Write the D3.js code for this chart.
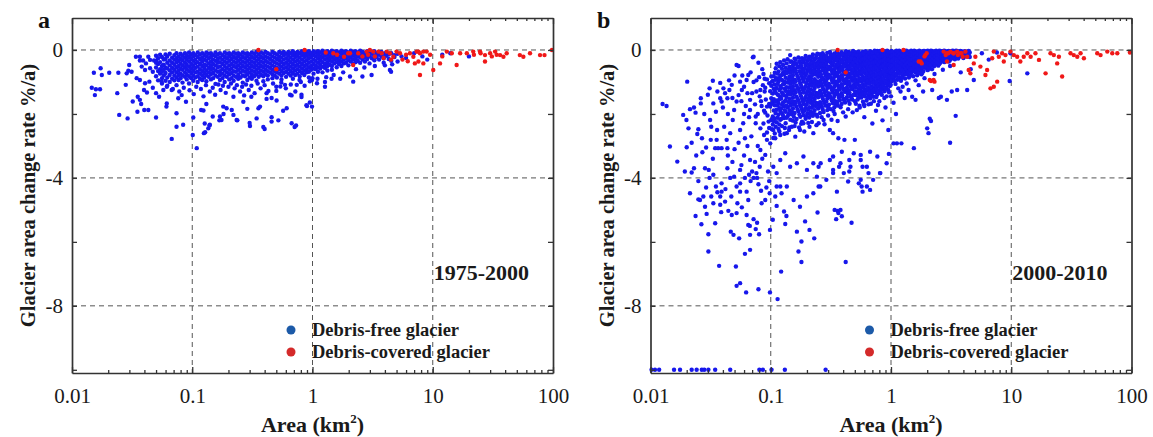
<!DOCTYPE html>
<html>
<head>
<meta charset="utf-8">
<script src="https://cdn.jsdelivr.net/npm/d3@7"></script>
<style>
body { margin: 0; background: #fff; }
svg { display: block; font-family: "Liberation Serif", "Times New Roman", serif; }
</style>
</head>
<body>
<script>
// axis values
const xMajor = [0.01, 0.1, 1, 10, 100];
const xLabels = ["0.01", "0.1", "1", "10", "100"];
const xGrid = [0.1, 1, 10];
const yTicks = [0, -2, -4, -6, -8, -10];
const yLabelled = [0, -4, -8];
const yGrid = [0, -4, -8];
const legendNames = ["Debris-free glacier", "Debris-covered glacier"];

// ---- panel a (1975-2000) ----
// dense band: [area, rate, rate, ...]
const denseFreeA = [
  [0.050,-0.18,-0.34,-0.55,-0.82],[0.052,-0.26,-0.44,-0.66,-0.95],[0.054,-0.15,-0.38,-0.6,-0.74],
  [0.056,-0.22,-0.5,-0.68,-0.88,-1.05],[0.058,-0.3,-0.46,-0.62,-0.8],[0.060,-0.14,-0.28,-0.55,-0.72,-0.96],
  [0.062,-0.2,-0.4,-0.58,-0.86],[0.065,-0.12,-0.33,-0.48,-0.64,-0.78,-1.0],[0.068,-0.24,-0.4,-0.56,-0.7,-0.9],
  [0.071,-0.16,-0.3,-0.46,-0.62,-0.8,-0.95],[0.074,-0.1,-0.26,-0.38,-0.54,-0.7,-0.86,-1.1],[0.077,-0.2,-0.34,-0.5,-0.64,-0.78,-0.94],
  [0.080,-0.12,-0.28,-0.42,-0.58,-0.74,-0.88],[0.083,-0.18,-0.32,-0.48,-0.62,-0.8,-1.02],[0.087,-0.1,-0.24,-0.4,-0.54,-0.7,-0.84],
  [0.090,-0.16,-0.3,-0.46,-0.6,-0.76,-0.92],[0.094,-0.08,-0.22,-0.36,-0.52,-0.66,-0.82,-1.05],[0.098,-0.14,-0.28,-0.44,-0.58,-0.72,-0.88],
  [0.102,-0.1,-0.2,-0.34,-0.5,-0.64,-0.8,-0.96],[0.106,-0.16,-0.3,-0.42,-0.56,-0.7,-0.86],[0.111,-0.08,-0.22,-0.38,-0.52,-0.68,-0.82,-1.0],
  [0.116,-0.14,-0.28,-0.44,-0.6,-0.74,-0.9],[0.121,-0.1,-0.24,-0.36,-0.5,-0.66,-0.8,-0.94],[0.126,-0.16,-0.3,-0.46,-0.58,-0.72,-0.86],
  [0.131,-0.08,-0.2,-0.34,-0.48,-0.64,-0.78,-0.98],[0.137,-0.12,-0.26,-0.42,-0.56,-0.7,-0.84],[0.143,-0.1,-0.22,-0.36,-0.5,-0.62,-0.76,-0.92],
  [0.149,-0.16,-0.3,-0.44,-0.58,-0.72,-0.88],[0.156,-0.08,-0.2,-0.34,-0.48,-0.64,-0.8,-1.06],[0.163,-0.14,-0.28,-0.4,-0.54,-0.68,-0.84],
  [0.170,-0.1,-0.24,-0.38,-0.52,-0.66,-0.78,-0.94],[0.178,-0.16,-0.3,-0.44,-0.6,-0.74,-0.88],[0.186,-0.08,-0.22,-0.36,-0.5,-0.64,-0.8,-1.0],
  [0.194,-0.12,-0.26,-0.4,-0.56,-0.7,-0.84],[0.203,-0.1,-0.2,-0.34,-0.48,-0.62,-0.76,-0.92],[0.212,-0.14,-0.28,-0.44,-0.58,-0.72,-0.88],
  [0.221,-0.08,-0.22,-0.36,-0.5,-0.66,-0.8,-0.96],[0.231,-0.12,-0.26,-0.4,-0.54,-0.68,-0.84],[0.241,-0.1,-0.2,-0.34,-0.48,-0.62,-0.78,-0.9],
  [0.252,-0.14,-0.28,-0.42,-0.56,-0.7,-0.86],[0.263,-0.08,-0.22,-0.36,-0.5,-0.64,-0.8,-1.02],[0.275,-0.12,-0.26,-0.4,-0.54,-0.68,-0.82],
  [0.287,-0.1,-0.2,-0.34,-0.48,-0.62,-0.76,-0.94],[0.300,-0.14,-0.28,-0.42,-0.56,-0.7,-0.86],[0.313,-0.08,-0.22,-0.36,-0.5,-0.64,-0.78,-0.9],
  [0.327,-0.12,-0.26,-0.4,-0.54,-0.68,-0.82],[0.342,-0.06,-0.2,-0.34,-0.48,-0.62,-0.76,-0.96],[0.357,-0.14,-0.28,-0.42,-0.56,-0.7,-0.84],
  [0.373,-0.08,-0.22,-0.36,-0.5,-0.64,-0.78],[0.390,-0.12,-0.26,-0.4,-0.54,-0.68,-0.82,-0.98],[0.407,-0.06,-0.2,-0.34,-0.48,-0.62,-0.76],
  [0.425,-0.1,-0.24,-0.38,-0.52,-0.66,-0.8,-0.92],[0.444,-0.14,-0.28,-0.42,-0.56,-0.7],[0.464,-0.06,-0.2,-0.34,-0.48,-0.62,-0.76,-0.88],
  [0.485,-0.1,-0.24,-0.38,-0.52,-0.66,-0.8],[0.506,-0.14,-0.28,-0.42,-0.56,-0.7,-0.86],[0.529,-0.06,-0.2,-0.32,-0.46,-0.6,-0.74],
  [0.552,-0.1,-0.24,-0.38,-0.52,-0.66,-0.8,-0.92],[0.577,-0.06,-0.16,-0.3,-0.44,-0.58,-0.72],[0.603,-0.12,-0.26,-0.4,-0.54,-0.68,-0.84],
  [0.630,-0.06,-0.18,-0.32,-0.46,-0.6,-0.74],[0.658,-0.1,-0.24,-0.38,-0.52,-0.66,-0.8],[0.687,-0.04,-0.16,-0.3,-0.44,-0.58,-0.72,-0.9],
  [0.718,-0.1,-0.22,-0.36,-0.5,-0.64,-0.78],[0.750,-0.06,-0.18,-0.32,-0.46,-0.6,-0.74],[0.783,-0.1,-0.24,-0.38,-0.52,-0.66,-0.82],
  [0.818,-0.04,-0.16,-0.3,-0.44,-0.58,-0.72],[0.855,-0.1,-0.22,-0.36,-0.5,-0.64,-0.78],[0.893,-0.06,-0.18,-0.32,-0.46,-0.6,-0.7],
  [0.933,-0.04,-0.14,-0.26,-0.4,-0.54,-0.68,-0.86],[0.975,-0.1,-0.22,-0.36,-0.5,-0.62],[1.02,-0.04,-0.16,-0.3,-0.44,-0.58,-0.74],
  [1.06,-0.08,-0.2,-0.34,-0.48,-0.6],[1.11,-0.04,-0.14,-0.26,-0.4,-0.54,-0.68],[1.16,-0.08,-0.2,-0.32,-0.46,-0.58],
  [1.21,-0.02,-0.12,-0.24,-0.38,-0.52,-0.7],[1.27,-0.08,-0.18,-0.3,-0.44,-0.56],[1.33,-0.04,-0.14,-0.26,-0.38,-0.5,-0.64],
  [1.39,-0.08,-0.2,-0.32,-0.46],[1.45,-0.02,-0.12,-0.24,-0.36,-0.5,-0.62],[1.52,-0.06,-0.18,-0.3,-0.42],
  [1.59,-0.04,-0.14,-0.26,-0.38,-0.54],[1.66,-0.08,-0.2,-0.32,-0.44],[1.74,-0.02,-0.12,-0.24,-0.36,-0.5],
  [1.82,-0.06,-0.18,-0.3,-0.42],[1.90,-0.04,-0.14,-0.26,-0.4],[1.99,-0.08,-0.2,-0.32,-0.48],
  [2.08,-0.02,-0.12,-0.24,-0.36],[2.18,-0.06,-0.18,-0.3,-0.44],[2.28,-0.04,-0.14,-0.26,-0.38],
  [2.38,-0.08,-0.2,-0.34],[2.49,-0.02,-0.12,-0.24,-0.4],[2.61,-0.06,-0.18,-0.3],[2.73,-0.1,-0.22,-0.36],
  [2.85,-0.04,-0.16,-0.28],[2.98,-0.08,-0.2,-0.42],[3.12,-0.12,-0.26],[3.27,-0.04,-0.18,-0.32],
  [3.42,-0.1,-0.22],[3.58,-0.14,-0.3],[3.74,-0.06,-0.2],[3.91,-0.12,-0.26,-0.4],[4.10,-0.08,-0.18],
  [4.30,-0.14,-0.28],[4.52,-0.1,-0.34],[4.8,-0.16,-0.22],[5.1,-0.12,-0.36],[5.5,-0.2]
];
// scattered debris-free points [area, rate]
const freeA = [
  [0.0152,-0.71],[0.0173,-0.57],[0.0177,-0.78],[0.0204,-0.71],[0.0243,-0.71],[0.0146,-1.18],[0.0158,-1.23],
  [0.0171,-1.23],[0.0155,-1.41],[0.0238,-1.35],[0.0247,-2.03],[0.029,-2.14],[0.032,-1.61],[0.0352,-1.46],
  [0.0367,-1.56],[0.035,-1.93],[0.0399,-1.875],[0.0431,-1.875],[0.050,-2.11],[0.0376,-1.69],[0.028,-1.09],
  [0.0285,-0.73],[0.0294,-0.65],[0.0299,-0.47],[0.0313,-0.68],[0.034,-0.21],[0.0367,-0.21],[0.0367,-0.33],
  [0.039,-0.33],[0.0412,-0.42],[0.0431,-0.21],[0.0446,-0.31],[0.0481,-0.33],[0.050,-0.40],[0.038,-0.52],
  [0.0405,-0.625],[0.0446,-0.57],[0.047,-0.68],[0.0345,-0.88],[0.0367,-0.94],[0.0405,-1.04],[0.044,-0.99],
  [0.0397,-1.25],[0.042,-1.33],[0.047,-1.18],[0.050,-1.35],[0.053,-1.46],[0.0575,-1.25],[0.0556,-0.99],
  [0.0614,-1.15],[0.0675,-1.25],[0.0614,-1.67],[0.061,-1.77],[0.074,-1.98],[0.0765,-1.51],[0.0817,-1.41],
  [0.0887,-1.62],[0.074,-2.4],[0.084,-2.34],[0.0675,-2.78],[0.109,-3.07],[0.102,-2.11],[0.101,-2.66],
  [0.124,-1.89],[0.131,-1.69],[0.125,-2.6],[0.127,-2.3],[0.136,-2.45],[0.1185,-1.875],[0.128,-2.57],
  [0.139,-2.36],[0.148,-2.08],[0.170,-2.08],[0.175,-2.19],[0.193,-1.82],[0.234,-2.19],[0.302,-2.375],
  [0.343,-2.14],[0.355,-1.82],[0.39,-2.41],[0.40,-2.47],[0.457,-2.24],[0.503,-1.58],[0.671,-2.29],
  [0.71,-2.41],[0.415,-1.53],[0.61,-1.82],[0.81,-1.47],[0.89,-1.73],[0.9,-1.75],[0.14,-2.34],
  [0.168,-2.2],[0.181,-1.77],[0.182,-2.0],[0.213,-1.875],[0.22,-2.03],[0.237,-2.2],[0.22,-1.46],
  [0.266,-1.62],[0.287,-1.84],[0.30,-2.28],[0.31,-1.46],[0.366,-1.77],[0.415,-1.35],[0.457,-1.5],
  [0.457,-2.1],[0.52,-2.2],[0.50,-1.28],[0.57,-1.9],[0.65,-1.4],[0.67,-1.42],[0.73,-2.36],[0.54,-1.14],
  [0.59,-1.09],[0.74,-1.09],[0.95,-1.64],[0.78,-0.94],[1.0,-0.88],[1.27,-1.0],[1.44,-0.9],[1.7,-0.9],
  [0.99,-0.94],[1.09,-1.04],[1.27,-1.15],[2.05,-0.83],[2.18,-0.99],[2.6,-0.83],[3.1,-0.78],[4.4,-0.625],
  [4.5,-0.68],[0.99,-1.77],[0.81,-1.4],[12,-0.15],[14,-0.1],[20,-0.2],[6.0,-0.25],[7.0,-0.1],
  [8.2,-0.2],[9.0,-0.3],
  [0.062,-1.12],[0.069,-1.22],[0.078,-1.3],[0.085,-1.18],[0.095,-1.26],[0.103,-1.38],[0.108,-1.15],
  [0.118,-1.22],[0.124,-1.45],[0.13,-1.1],[0.14,-1.3],[0.148,-1.18],[0.155,-1.4],[0.165,-1.08],
  [0.172,-1.25],[0.18,-1.12],[0.19,-1.34],[0.2,-1.15],[0.21,-1.05],[0.225,-1.2],[0.235,-1.1],
  [0.25,-1.3],[0.26,-1.15],[0.27,-1.42],[0.28,-1.08],[0.295,-1.25],[0.31,-1.12],[0.33,-1.35],
  [0.35,-1.05],[0.37,-1.2],[0.4,-1.1],[0.43,-1.28],[0.47,-1.05],[0.5,-1.15],[0.55,-1.02],[0.6,-1.2],
  [0.66,-1.08],[0.72,-1.3],[0.8,-1.0],[0.86,-1.12],[0.95,-0.98],[1.1,-0.9],[1.3,-0.85],[1.5,-0.78],
  [1.8,-0.7],[2.3,-0.6],[2.7,-0.55],[3.3,-0.5],[4.0,-0.48],[4.6,-0.45]
];
const coveredA = [
  [0.355,0],[0.5,-0.6],[0.86,0],[1.29,-0.08],[1.6,-0.15],[1.83,-0.21],[1.98,-0.1],
  [1.49,-0.1],[2.05,-0.1],[2.18,-0.47],[2.4,-0.1],[2.82,-0.05],[3.0,0],[3.2,-0.05],[3.53,-0.05],
  [3.76,-0.1],[4.14,-0.05],[4.4,-0.1],[4.7,-0.21],[5.34,-0.1],[6.46,-0.1],[6.9,-0.21],[7.35,-0.05],
  [7.6,-0.05],[7.83,-0.1],[8.35,-0.05],[8.9,-0.05],[7.1,-0.42],[7.6,-0.36],[8.35,-0.42],[7.83,-0.78],
  [10.1,-0.625],[11.5,-0.42],[13.1,-0.05],[14.4,-0.1],[15.8,-0.47],[16.9,-0.1],[19.2,-0.1],[21.7,-0.05],
  [24.7,-0.05],[27.2,-0.16],[27.2,-0.36],[30,-0.1],[33,-0.05],[36.3,-0.16],[38.7,-0.21],[41.2,-0.1],
  [53,-0.16],[56.7,-0.21],[64.4,-0.1],[78,-0.16],[85,-0.16],[98,0],
  [2.6,-0.2],[2.9,-0.15],[3.3,-0.2],[3.9,-0.25],[4.5,-0.3],[5.0,-0.05],[5.6,-0.3],[6.0,-0.15],
  [6.2,-0.35],[9.5,-0.15],[12,-0.2],[22,-0.15],[25,-0.1],[31,-0.2],[34,-0.15]
];

// ---- panel b (2000-2010) ----
const denseFreeB = [
  [0.090,-1.18,-1.96],[0.093,-0.92,-1.77,-2.58],
  [0.097,-1.04,-1.69,-2.44],[0.101,-0.83,-1.12,-1.51,-2.19],
  [0.104,-0.97,-1.36,-1.62,-2.08,-2.33],[0.108,-0.71,-1.08,-1.27,-1.73,-2.14,-2.61],
  [0.112,-0.43,-0.88,-1.19,-1.58,-1.87,-2.26],[0.116,-0.67,-0.99,-1.41,-1.66,-2.02,-2.47],
  [0.120,-0.38,-0.81,-1.13,-1.47,-1.91,-2.18],[0.124,-0.59,-0.94,-1.33,-1.71,-1.98,-2.38],
  [0.129,-0.33,-0.77,-1.06,-1.42,-1.76,-2.13],[0.133,-0.56,-0.87,-1.28,-1.57,-1.93,-2.29],
  [0.138,-0.29,-0.69,-1.02,-1.38,-1.79,-2.07],[0.143,-0.52,-0.83,-1.17,-1.53,-1.88,-2.42],
  [0.148,-0.36,-0.62,-0.98,-1.31,-1.68,-2.01],[0.153,-0.48,-0.79,-1.14,-1.49,-1.83,-2.21],
  [0.158,-0.27,-0.58,-0.93,-1.26,-1.62,-1.97],[0.164,-0.44,-0.74,-1.11,-1.46,-1.77,-2.16],
  [0.170,-0.23,-0.53,-0.88,-1.22,-1.58,-1.92],[0.176,-0.41,-0.68,-1.04,-1.37,-1.73,-2.09],
  [0.182,-0.26,-0.57,-0.83,-1.18,-1.52,-1.86,-2.24],[0.188,-0.39,-0.72,-0.99,-1.33,-1.69,-2.04],
  [0.195,-0.19,-0.48,-0.78,-1.13,-1.47,-1.81,-2.15],[0.202,-0.34,-0.63,-0.94,-1.29,-1.61,-1.98],
  [0.209,-0.21,-0.47,-0.82,-1.08,-1.43,-1.79,-2.11],[0.216,-0.33,-0.61,-0.89,-1.24,-1.57,-1.93],
  [0.224,-0.14,-0.44,-0.73,-1.03,-1.38,-1.72,-2.06],[0.232,-0.29,-0.58,-0.91,-1.19,-1.53,-1.88],
  [0.240,-0.18,-0.43,-0.69,-0.98,-1.34,-1.66,-2.02],[0.248,-0.36,-0.59,-0.84,-1.14,-1.48,-1.83],
  [0.257,-0.13,-0.38,-0.68,-0.97,-1.28,-1.63,-1.97],[0.266,-0.28,-0.54,-0.86,-1.12,-1.44,-1.78],
  [0.275,-0.16,-0.41,-0.64,-0.93,-1.24,-1.59,-1.94],[0.285,-0.31,-0.57,-0.81,-1.09,-1.41,-1.74],
  [0.295,-0.09,-0.36,-0.62,-0.88,-1.19,-1.52,-1.88],[0.305,-0.24,-0.52,-0.77,-1.06,-1.36,-1.71],
  [0.316,-0.14,-0.39,-0.58,-0.87,-1.17,-1.49,-1.85],[0.327,-0.27,-0.48,-0.74,-1.02,-1.33,-1.66],
  [0.338,-0.11,-0.33,-0.61,-0.84,-1.14,-1.44,-1.79],[0.350,-0.22,-0.47,-0.71,-0.99,-1.27,-1.61],
  [0.362,-0.12,-0.36,-0.56,-0.82,-1.11,-1.39,-1.74],[0.375,-0.26,-0.49,-0.68,-0.96,-1.24,-1.57],
  [0.388,-0.07,-0.31,-0.54,-0.79,-1.07,-1.35,-1.69],[0.401,-0.19,-0.43,-0.66,-0.93,-1.21,-1.53],
  [0.415,-0.11,-0.29,-0.52,-0.76,-1.04,-1.31,-1.64],[0.430,-0.23,-0.46,-0.63,-0.89,-1.18,-1.48],
  [0.445,-0.06,-0.27,-0.49,-0.73,-0.99,-1.26,-1.59],[0.460,-0.18,-0.41,-0.61,-0.86,-1.13,-1.44],
  [0.476,-0.09,-0.32,-0.47,-0.69,-0.96,-1.22,-1.55],[0.493,-0.21,-0.38,-0.58,-0.83,-1.08,-1.39],
  [0.510,-0.07,-0.26,-0.46,-0.67,-0.92,-1.17,-1.41,-1.68],[0.528,-0.17,-0.36,-0.56,-0.79,-1.03,-1.33,-1.55],
  [0.546,-0.11,-0.24,-0.43,-0.64,-0.88,-1.12,-1.37,-1.74],[0.565,-0.19,-0.35,-0.53,-0.76,-0.99,-1.28,-1.49],
  [0.585,-0.05,-0.22,-0.41,-0.61,-0.84,-1.07,-1.31,-1.62],[0.605,-0.16,-0.33,-0.51,-0.72,-0.96,-1.24,-1.45],
  [0.626,-0.08,-0.21,-0.38,-0.59,-0.81,-1.03,-1.27,-1.58],[0.648,-0.14,-0.29,-0.48,-0.69,-0.91,-1.19,-1.41],
  [0.671,-0.04,-0.19,-0.36,-0.56,-0.77,-0.98,-1.22,-1.51],[0.694,-0.12,-0.27,-0.46,-0.66,-0.88,-1.14,-1.36],
  [0.718,-0.06,-0.17,-0.34,-0.52,-0.73,-0.94,-1.17,-1.46],[0.743,-0.13,-0.26,-0.43,-0.63,-0.84,-1.09,-1.32],
  [0.769,-0.03,-0.18,-0.31,-0.49,-0.71,-0.91,-1.13,-1.39],[0.796,-0.11,-0.24,-0.41,-0.59,-0.81,-1.04,-1.27],
  [0.824,-0.06,-0.16,-0.29,-0.47,-0.66,-0.87,-1.08,-1.34],[0.853,-0.12,-0.23,-0.38,-0.56,-0.77,-1.01,-1.23],
  [0.883,-0.04,-0.14,-0.27,-0.44,-0.63,-0.83,-1.04,-1.29],[0.914,-0.09,-0.21,-0.36,-0.53,-0.74,-0.96,-1.18],
  [0.946,-0.05,-0.13,-0.26,-0.42,-0.61,-0.79,-1.0,-1.24],[0.979,-0.1,-0.19,-0.34,-0.51,-0.71,-0.93,-1.13],
  [1.01,-0.03,-0.14,-0.29,-0.42,-0.61,-0.77,-0.98],[1.05,-0.09,-0.21,-0.36,-0.52,-0.69,-0.88],
  [1.09,-0.05,-0.17,-0.27,-0.45,-0.58,-0.81,-1.06],[1.13,-0.11,-0.24,-0.39,-0.55,-0.72,-0.93],
  [1.17,-0.02,-0.15,-0.31,-0.47,-0.64,-0.85],[1.21,-0.08,-0.2,-0.35,-0.53,-0.7,-0.96],
  [1.26,-0.04,-0.13,-0.28,-0.43,-0.6,-0.79],[1.31,-0.1,-0.23,-0.37,-0.5,-0.67,-0.89],
  [1.36,-0.03,-0.16,-0.3,-0.44,-0.58,-0.75],[1.41,-0.07,-0.19,-0.34,-0.49,-0.65,-0.86],
  [1.47,-0.02,-0.12,-0.26,-0.4,-0.55,-0.72],[1.53,-0.09,-0.21,-0.33,-0.47,-0.63,-0.82],
  [1.59,-0.04,-0.14,-0.27,-0.41,-0.56,-0.7],[1.65,-0.07,-0.18,-0.31,-0.45,-0.61,-0.79],
  [1.72,-0.02,-0.11,-0.24,-0.37,-0.52,-0.68],[1.79,-0.06,-0.16,-0.29,-0.43,-0.58,-0.76],
  [1.86,-0.03,-0.12,-0.22,-0.35,-0.5,-0.66],[1.94,-0.08,-0.17,-0.28,-0.41,-0.56],
  [2.02,-0.02,-0.1,-0.21,-0.33,-0.47,-0.63],[2.10,-0.05,-0.14,-0.26,-0.39,-0.53],
  [2.19,-0.03,-0.11,-0.19,-0.31,-0.45,-0.6],[2.28,-0.07,-0.15,-0.24,-0.37,-0.51],
  [2.37,-0.02,-0.09,-0.18,-0.29,-0.42],[2.47,-0.05,-0.13,-0.23,-0.35,-0.49],
  [2.57,-0.03,-0.1,-0.17,-0.27,-0.4],[2.67,-0.06,-0.14,-0.22,-0.33],
  [2.78,-0.02,-0.09,-0.16,-0.26,-0.38],[2.90,-0.05,-0.12,-0.2,-0.31],
  [3.02,-0.03,-0.08,-0.15,-0.24,-0.36],[3.14,-0.06,-0.11,-0.19,-0.28],
  [3.27,-0.02,-0.09,-0.14,-0.22],[3.40,-0.05,-0.12,-0.29],[3.54,-0.03,-0.1,-0.17],
  [3.69,-0.07,-0.13,-0.21],[3.84,-0.04,-0.16],[4.00,-0.09,-0.25],[4.17,-0.05,-0.19],
  [4.34,-0.12],[4.52,-0.08,-0.22]
];
// second, interleaved set of columns for the dense part of panel b
const denseFreeB2 = [
  [0.0990,-1.29,-1.77],[0.1025,-0.99,-1.68,-2.48],
  [0.1060,-0.82,-1.21,-1.54,-1.89,-2.22],[0.1100,-0.57,-0.93,-1.34,-1.61,-1.98,-2.4],
  [0.1140,-0.74,-1.06,-1.39,-1.73,-2.12],[0.1180,-0.51,-0.88,-1.25,-1.54,-1.82,-2.33],
  [0.1220,-0.79,-1.19,-1.52,-1.83,-2.16],[0.1265,-0.47,-0.71,-1.07,-1.39,-1.64,-2.05],
  [0.1310,-0.68,-0.99,-1.21,-1.61,-1.88,-2.44],[0.1355,-0.42,-0.72,-1.16,-1.47,-1.74,-2.12],
  [0.1405,-0.61,-0.92,-1.29,-1.63,-2.0],[0.1455,-0.37,-0.71,-1.06,-1.39,-1.74,-2.18],
  [0.1505,-0.58,-0.88,-1.23,-1.6,-1.94],[0.1555,-0.4,-0.68,-1.03,-1.38,-1.71,-2.09],
  [0.161,-0.31,-0.63,-0.98,-1.33,-1.66,-2.27],[0.167,-0.53,-0.82,-1.19,-1.53,-1.86],
  [0.173,-0.35,-0.66,-0.96,-1.3,-1.66,-2.02],[0.179,-0.49,-0.76,-1.12,-1.45,-1.79,-2.31],
  [0.185,-0.32,-0.64,-0.91,-1.24,-1.6,-1.94],[0.1915,-0.28,-0.58,-0.87,-1.21,-1.56,-1.89],
  [0.1985,-0.41,-0.72,-1.04,-1.37,-1.7,-2.07],[0.2055,-0.27,-0.55,-0.9,-1.18,-1.52,-1.86],
  [0.2125,-0.44,-0.69,-0.97,-1.34,-1.65,-2.02],[0.2200,-0.22,-0.52,-0.8,-1.12,-1.47,-1.81],
  [0.228,-0.37,-0.66,-0.98,-1.28,-1.62,-1.97],[0.236,-0.26,-0.51,-0.77,-1.07,-1.42,-1.75],
  [0.244,-0.12,-0.45,-0.7,-1.02,-1.39,-1.71,-2.08],[0.2525,-0.27,-0.52,-0.76,-1.05,-1.37,-1.72],
  [0.2615,-0.21,-0.46,-0.77,-1.04,-1.36,-1.69],[0.2705,-0.1,-0.33,-0.6,-0.89,-1.18,-1.51,-1.86],
  [0.280,-0.24,-0.49,-0.72,-1.01,-1.32,-1.66],[0.290,-0.19,-0.44,-0.7,-0.97,-1.29,-1.61],
  [0.300,-0.31,-0.54,-0.8,-1.12,-1.44,-1.78],[0.3105,-0.06,-0.32,-0.6,-0.83,-1.13,-1.44],
  [0.3215,-0.19,-0.43,-0.66,-0.94,-1.24,-1.57],[0.3325,-0.16,-0.39,-0.69,-0.93,-1.23,-1.54,-1.91],
  [0.344,-0.28,-0.55,-0.78,-1.06,-1.36,-1.68],[0.356,-0.05,-0.29,-0.47,-0.74,-1.02,-1.31,-1.65],
  [0.368,-0.2,-0.44,-0.64,-0.91,-1.18,-1.49],[0.381,-0.15,-0.38,-0.6,-0.86,-1.15,-1.44,-1.79],
  [0.394,-0.13,-0.37,-0.58,-0.85,-1.13,-1.43],[0.408,-0.27,-0.48,-0.71,-0.98,-1.26,-1.58],
  [0.4225,-0.04,-0.18,-0.39,-0.68,-0.94,-1.22,-1.52],[0.4375,-0.14,-0.35,-0.56,-0.81,-1.08,-1.37],
  [0.4525,-0.11,-0.33,-0.55,-0.79,-1.05,-1.34,-1.68],[0.468,-0.25,-0.49,-0.73,-0.9,-1.19,-1.5],
  [0.4845,-0.03,-0.15,-0.4,-0.62,-0.87,-1.14,-1.41],[0.5015,-0.13,-0.3,-0.5,-0.75,-0.98,-1.29,-1.6],
  [0.519,-0.16,-0.35,-0.57,-0.8,-1.08,-1.32],[0.537,-0.05,-0.29,-0.5,-0.72,-0.96,-1.24,-1.48],
  [0.5555,-0.15,-0.32,-0.51,-0.7,-0.93,-1.18,-1.43],[0.575,-0.12,-0.28,-0.47,-0.69,-0.92,-1.17,-1.38],
  [0.595,-0.1,-0.27,-0.46,-0.66,-0.9,-1.15,-1.36,-1.7],[0.6155,-0.04,-0.24,-0.44,-0.64,-0.87,-1.1,-1.35],
  [0.637,-0.17,-0.34,-0.53,-0.76,-0.97,-1.22,-1.49],[0.659,-0.09,-0.24,-0.42,-0.62,-0.83,-1.06,-1.31],
  [0.682,-0.16,-0.31,-0.51,-0.72,-0.94,-1.19,-1.44],[0.706,-0.1,-0.22,-0.4,-0.59,-0.8,-1.03,-1.28],
  [0.7305,-0.02,-0.2,-0.38,-0.57,-0.79,-1.01,-1.24],[0.756,-0.08,-0.23,-0.37,-0.55,-0.76,-0.98,-1.22,-1.47],
  [0.7825,-0.14,-0.29,-0.46,-0.66,-0.87,-1.11,-1.35],[0.81,-0.03,-0.2,-0.35,-0.53,-0.73,-0.95,-1.18],
  [0.8385,-0.1,-0.21,-0.34,-0.52,-0.71,-0.92,-1.14,-1.4],[0.868,-0.07,-0.18,-0.33,-0.5,-0.69,-0.9,-1.12],
  [0.898,-0.13,-0.26,-0.41,-0.58,-0.78,-1.0,-1.21],[0.93,-0.02,-0.17,-0.31,-0.47,-0.66,-0.86,-1.07],
  [0.9625,-0.08,-0.2,-0.3,-0.46,-0.65,-0.84,-1.06,-1.32],[0.996,-0.07,-0.2,-0.35,-0.5,-0.69,-0.88,-1.09],
  [1.03,-0.06,-0.17,-0.33,-0.48,-0.65,-0.83],[1.07,-0.12,-0.26,-0.41,-0.57,-0.75,-0.96],
  [1.11,-0.02,-0.14,-0.3,-0.45,-0.61,-0.78],[1.15,-0.07,-0.19,-0.35,-0.51,-0.68,-0.89],
  [1.19,-0.11,-0.25,-0.4,-0.57,-0.74],[1.235,-0.06,-0.17,-0.31,-0.47,-0.65,-0.87],
  [1.285,-0.08,-0.2,-0.34,-0.5,-0.7],[1.335,-0.02,-0.13,-0.27,-0.42,-0.58,-0.76],
  [1.385,-0.11,-0.24,-0.38,-0.53,-0.69],[1.44,-0.05,-0.16,-0.3,-0.45,-0.61,-0.8],
  [1.50,-0.07,-0.18,-0.3,-0.44,-0.59],[1.56,-0.02,-0.11,-0.23,-0.36,-0.51,-0.66],
  [1.62,-0.09,-0.21,-0.34,-0.5,-0.64],[1.685,-0.04,-0.14,-0.27,-0.41,-0.57,-0.73],
  [1.755,-0.08,-0.19,-0.32,-0.47,-0.62],[1.825,-0.05,-0.15,-0.26,-0.39,-0.54,-0.71],
  [1.90,-0.03,-0.1,-0.2,-0.32,-0.47],[1.98,-0.06,-0.14,-0.25,-0.38,-0.52],
  [2.06,-0.08,-0.18,-0.29,-0.43,-0.58],[2.145,-0.02,-0.09,-0.22,-0.34,-0.47],
  [2.235,-0.06,-0.13,-0.27,-0.41],[2.325,-0.04,-0.11,-0.21,-0.33,-0.46],
  [2.42,-0.07,-0.16,-0.26,-0.38],[2.52,-0.02,-0.08,-0.19,-0.31,-0.44],
  [2.62,-0.05,-0.12,-0.24,-0.36],[2.725,-0.03,-0.11,-0.19,-0.29],
  [2.84,-0.07,-0.14,-0.23,-0.34],[2.96,-0.04,-0.1,-0.18,-0.27],
  [3.08,-0.06,-0.13,-0.21,-0.33],[3.21,-0.03,-0.11,-0.17,-0.26],
  [3.34,-0.07,-0.15,-0.24],[3.47,-0.02,-0.09,-0.19],[3.62,-0.06,-0.14,-0.27],
  [3.77,-0.03,-0.1,-0.18],[3.92,-0.07,-0.13],[4.08,-0.04,-0.16],[4.25,-0.08,-0.2],[4.43,-0.03,-0.15]
];
const freeB = [
  [0.0126,-1.69],[0.0136,-1.75],[0.0202,-0.99],[0.033,-0.96],[0.038,-1.03],[0.052,-0.47],[0.054,-0.5],
  [0.071,-0.23],[0.079,-0.4],[0.0145,-3.02],[0.0167,-3.49],[0.02,-3.04],[0.0187,-2.03],[0.0199,-2.19],
  [0.0207,-2.45],[0.0213,-1.85],[0.023,-1.8],[0.0245,-2.625],[0.025,-2.48],[0.0237,-1.96],[0.0262,-1.51],
  [0.0262,-1.67],[0.0268,-2.76],[0.0313,-2.19],[0.032,-2.4],[0.0333,-1.67],[0.035,-1.93],[0.0358,-2.5],
  [0.038,-1.51],[0.039,-1.61],[0.0404,-1.2],[0.0417,-1.35],[0.0436,-1.51],[0.0453,-1.25],[0.0474,-1.09],
  [0.0483,-2.19],[0.0496,-1.875],[0.052,-1.61],[0.054,-1.41],[0.0556,-0.99],[0.0575,-1.25],[0.06,-1.15],
  [0.063,-0.94],[0.065,-0.78],[0.0317,-2.81],[0.0345,-3.07],[0.0365,-3.07],[0.039,-3.07],[0.0355,-2.81],
  [0.043,-2.81],[0.0436,-3.07],[0.0193,-3.8],[0.022,-3.83],[0.023,-3.7],[0.0284,-3.7],[0.0305,-3.75],
  [0.0333,-3.9],[0.035,-4.27],[0.039,-4.17],[0.0436,-3.7],[0.0213,-4.48],[0.025,-4.67],[0.0275,-4.58],
  [0.032,-4.58],[0.038,-4.58],[0.039,-4.43],[0.046,-4.0],[0.0496,-3.96],[0.052,-4.27],[0.0556,-4.17],
  [0.0556,-4.43],[0.0556,-3.75],[0.063,-4.43],[0.065,-4.69],[0.072,-4.0],[0.077,-4.0],[0.081,-3.65],
  [0.0673,-3.44],[0.074,-3.5],[0.082,-3.125],[0.09,-3.28],[0.093,-2.81],[0.099,-2.92],[0.088,-2.66],
  [0.082,-2.45],[0.075,-2.29],[0.075,-2.08],[0.0673,-1.875],[0.0673,-1.56],[0.059,-2.29],[0.0556,-2.5],
  [0.061,-2.76],[0.096,-2.24],[0.105,-3.65],[0.112,-3.85],[0.12,-4.27],[0.109,-4.58],[0.098,-4.48],
  [0.09,-4.69],[0.084,-4.79],[0.0258,-4.69],[0.0284,-4.9],[0.0333,-4.79],[0.0417,-4.74],[0.047,-4.58],
  [0.0528,-4.79],[0.0237,-5.19],[0.0293,-5.125],[0.0265,-5.45],[0.0303,-5.76],[0.0303,-6.3],[0.0372,-6.75],
  [0.0345,-5.42],[0.0387,-5.07],[0.038,-4.84],[0.0444,-5.03],[0.0474,-5.16],[0.0465,-5.68],[0.049,-5.78],
  [0.0546,-5.89],[0.052,-5.1],[0.0575,-4.92],[0.063,-5.16],[0.065,-5.47],[0.067,-5.5],[0.0673,-5.78],
  [0.072,-5.29],[0.077,-5.4],[0.08,-5.76],[0.075,-5.6],[0.0673,-6.25],[0.061,-6.375],[0.0513,-6.77],
  [0.052,-7.375],[0.0556,-7.29],[0.0624,-7.58],[0.079,-7.48],[0.0985,-7.58],[0.0985,-5.625],[0.104,-5.31],
  [0.114,-7.79],[0.122,-6.93],[0.112,-4.875],[0.129,-5.05],[0.135,-5.19],[0.132,-5.44],[0.165,-5.68],
  [0.17,-6.3],[0.18,-6.63],[0.193,-5.36],[0.21,-5.625],[0.23,-5.89],[0.18,-5.99],[0.245,-5.08],
  [0.35,-5.29],[0.36,-5.03],[0.47,-5.4],[0.42,-6.63],
  [0.105,-2.5],[0.109,-2.76],[0.12,-2.66],[0.136,-2.6],[0.15,-2.4],[0.16,-2.71],[0.175,-2.5],[0.187,-2.29],
  [0.21,-2.4],[0.226,-2.6],[0.25,-2.29],[0.275,-2.19],[0.31,-2.5],[0.33,-2.6],[0.365,-2.76],[0.12,-3.44],
  [0.132,-3.23],[0.145,-3.65],[0.165,-3.54],[0.187,-3.33],[0.2,-3.75],[0.226,-3.54],[0.242,-3.96],
  [0.258,-4.27],[0.29,-4.06],[0.33,-3.75],[0.38,-3.54],[0.405,-3.85],[0.46,-3.65],[0.49,-3.23],[0.56,-3.44],
  [0.63,-3.65],[0.71,-4.06],[0.81,-3.85],[0.92,-3.54],[1.05,-2.92],[0.112,-4.27],[0.123,-4.48],[0.136,-4.27],
  [0.155,-4.69],[0.175,-4.9],[0.2,-4.58],[0.226,-4.48],[0.25,-4.27],[0.38,-5.0],[0.54,-4.17],[0.57,-4.27],
  [0.365,-5.1],[0.39,-5.2],[0.63,-4.27],[0.67,-4.375],[0.58,-3.65],[0.65,-3.85],[0.815,-3.85],[0.77,-3.33],
  [0.67,-3.18],[0.56,-3.28],[0.50,-2.81],[0.41,-2.81],[0.45,-3.8],[0.44,-4.11],[0.355,-4.43],[0.34,-5.0],
  [0.26,-3.54],[0.25,-3.65],[0.31,-3.44],[0.33,-3.33],[0.39,-3.18],[0.33,-3.85],[0.58,-4.43],[0.56,-4.06],
  [0.45,-3.44],[0.37,-3.65],
  [0.068,-0.7],[0.072,-1.0],[0.076,-1.3],[0.08,-0.85],[0.083,-1.6],[0.086,-1.1],[0.088,-1.9],[0.07,-1.35],
  [0.078,-2.0],[0.085,-0.6],[0.062,-1.75],[0.058,-0.8],[0.066,-2.1],[0.074,-1.7],[0.081,-1.45],[0.087,-2.3],
  [0.089,-0.9],[0.064,-1.35],[0.06,-2.0],[0.057,-1.6],[0.05,-0.8],[0.045,-0.95],[0.048,-1.5],[0.044,-2.0],
  [0.041,-2.4],[0.046,-2.6],[0.04,-1.8],[0.036,-1.3],[0.03,-1.4],[0.028,-2.0],[0.031,-1.2],[0.027,-3.2],
  [0.033,-3.4],[0.029,-3.05],[0.024,-3.3],[0.022,-2.9],[0.025,-4.1],[0.029,-4.3],[0.031,-4.0],[0.036,-4.45],
  [0.042,-4.35],[0.044,-3.3],[0.048,-3.5],[0.05,-3.1],[0.054,-2.9],[0.057,-3.6],[0.06,-3.3],[0.064,-3.0],
  [0.069,-2.7],[0.07,-3.8],[0.078,-3.0],[0.085,-3.4],[0.095,-3.8],[0.097,-4.1],[0.092,-4.3],[0.083,-4.4],
  [0.079,-4.2],[0.076,-3.85],[0.068,-4.1],[0.066,-3.9],[0.061,-4.0],[0.145,-0.16],[0.072,-0.21],
  [0.55,-1.8],[0.6,-2.1],[0.65,-1.7],[0.7,-2.3],[0.75,-1.9],[0.8,-1.6],[0.85,-2.2],[0.9,-1.8],[0.95,-2.5],
  [1.0,-1.45],[1.05,-1.65],[1.1,-2.0],[1.2,-1.3],[1.3,-1.5],[1.4,-1.25],[1.5,-1.46],[1.6,-1.56],[1.7,-1.1],
  [1.85,-1.3],[2.2,-1.25],[2.5,-1.5],[2.6,-1.46],[2.92,-1.56],[3.2,-1.3],[3.55,-1.25],[4.3,-1.25],
  [4.88,-0.94],[3.8,-0.7],[4.6,-0.6],[5.7,-0.1],[7.6,-0.08],[9.85,-0.1],[13.6,-0.73],[9.7,-0.97],
  [6.5,-0.3],[2.1,-2.15],[2.15,-2.22],[2.0,-2.45],[2.05,-2.6],[3.45,-2.06],[3.1,-2.9],[1.55,-3.07],
  [1.12,-2.92],[1.22,-2.92],[0.96,-3.25],
  [0.105,-2.75],[0.118,-2.55],[0.13,-2.62],[0.142,-2.5],[0.158,-2.38],[0.172,-2.42],[0.19,-2.55],
  [0.205,-2.28],[0.22,-2.25],[0.24,-2.35],[0.265,-2.1],[0.28,-2.32],[0.3,-2.05],[0.32,-2.18],[0.34,-2.0],
  [0.36,-2.22],[0.4,-1.95],[0.42,-2.08],[0.44,-1.85],[0.48,-1.95],[0.52,-1.88],[0.6,-1.75],[0.68,-1.68],
  [0.72,-1.6],[0.78,-1.72],[0.88,-1.5],[0.92,-1.45],[1.15,-1.2],[1.25,-1.15],[1.35,-1.05],[1.6,-0.95],
  [1.9,-0.88],[2.3,-0.75],[2.7,-0.62],[3.1,-0.5],
  [0.076,-0.95],[0.082,-1.25],[0.084,-1.75],[0.087,-0.75],[0.091,-1.55],[0.094,-2.05],[0.089,-1.3]
];
// glaciers that vanished, plotted on the -10 floor
const floorAreasB = [0.0102,0.0109,0.0118,0.0157,0.0176,0.022,0.0242,0.0267,0.028,0.0303,0.0345,0.046,0.0804,0.086,0.1015,0.131,0.286];
const floorRateB = -10;
const coveredB = [
  [0.36,0],[0.42,-0.7],[0.85,0],[1.27,0],[1.7,-0.36],[1.8,-0.42],[2.1,-0.94],[2.15,-0.97],[1.9,-0.2],
  [2.74,-0.05],[2.92,-0.1],[3.12,-0.05],[3.32,-0.1],[3.55,-0.05],[3.78,-0.1],[4.16,-0.05],[4.3,-0.21],
  [4.43,-0.625],[4.57,-0.73],[4.88,-0.42],[5.03,-0.21],[5.54,-0.52],[6.1,-0.78],[6.3,-0.625],[6.72,-1.2],
  [7.16,-1.15],[7.64,-0.99],[6.94,-0.26],[7.16,-0.05],[7.88,-0.21],[8.4,-0.1],[8.67,-0.36],[8.95,-0.16],
  [9.85,-0.05],[10.5,-0.16],[11.2,-0.21],[11.9,-0.36],[12.7,-0.21],[13.6,-0.1],[14.5,-0.21],[15.9,-0.1],
  [17,-0.31],[19.3,-0.73],[21.2,-0.1],[22.6,-0.16],[24.1,-0.42],[24.9,-0.21],[26.5,-0.83],[31.1,-0.1],
  [33.1,-0.16],[35.4,-0.21],[37.7,-0.1],[40.2,-0.26],[51.9,-0.1],[55.3,-0.16],[62.9,-0.05],[69.2,-0.1],
  [76.2,-0.1],[97,-0.08],[1.93,-0.16],[1.98,-0.1],[2.85,-0.16],[3.0,-0.1],[3.3,-0.1],[3.6,-0.16],
  [3.85,-0.1],[1.76,-0.36],[2.26,-0.94],[2.3,-0.99],[2.92,-0.36],[3.32,-0.47],[3.95,-0.21]
];

const panels = [
  { label: "a", labelX: 38, x0: 72, period: "1975-2000", dense: denseFreeA, free: freeA, covered: coveredA },
  { label: "b", labelX: 597, x0: 650.5, period: "2000-2010", dense: denseFreeB.concat(denseFreeB2),
    free: freeB.concat(floorAreasB.map(a => [a, floorRateB])), covered: coveredB }
];

const width = 1153, height = 437;
const plotTop = 18, plotBottom = 373, plotW = 481;
const blue = "#1717ec", red = "#f01818";
const frameColor = "#333";

const svg = d3.select("body").append("svg")
    .attr("width", width)
    .attr("height", height);

function styleAxis(g) {
    g.attr("font-family", null).attr("font-size", null);
    g.select(".domain").attr("stroke", frameColor).attr("stroke-width", 1.7);
    g.selectAll(".tick line").attr("stroke", frameColor).attr("stroke-width", 1.3);
    g.selectAll(".tick text").attr("fill", "#1a1a1a").style("font-size", "21px");
}

panels.forEach(p => {
    const x = d3.scaleLog().domain([0.01, 100]).range([p.x0, p.x0 + plotW]);
    const y = d3.scaleLinear().domain([-10.1, 1]).range([plotBottom, plotTop]);
    const xMinor = x.ticks().filter(d => !xMajor.some(m => Math.abs(m - d) < 1e-9));
    const g = svg.append("g");

    // dashed grid
    g.append("g").selectAll("line").data(xGrid).join("line")
        .attr("x1", d => x(d)).attr("x2", d => x(d))
        .attr("y1", plotTop).attr("y2", plotBottom)
        .attr("stroke", "#555").attr("stroke-width", 1).attr("stroke-dasharray", "5,4");
    g.append("g").selectAll("line").data(yGrid).join("line")
        .attr("x1", p.x0).attr("x2", p.x0 + plotW)
        .attr("y1", d => y(d)).attr("y2", d => y(d))
        .attr("stroke", "#555").attr("stroke-width", 1).attr("stroke-dasharray", "5,4");

    // points
    const freePts = p.dense.flatMap(r => r.slice(1).map(v => [r[0], v])).concat(p.free);
    g.append("g").selectAll("circle").data(freePts).join("circle")
        .attr("cx", d => x(d[0])).attr("cy", d => y(d[1]))
        .attr("r", 2.2).attr("fill", blue);
    g.append("g").selectAll("circle").data(p.covered).join("circle")
        .attr("cx", d => x(d[0])).attr("cy", d => y(d[1]))
        .attr("r", 2.2).attr("fill", red);

    // frame + ticks (all inward)
    g.append("g").attr("transform", `translate(0,${plotBottom})`)
        .call(d3.axisBottom(x).tickValues(xMajor).tickSize(-6).tickSizeOuter(0).tickPadding(15)
            .tickFormat((d, i) => xLabels[i]))
        .call(styleAxis);
    g.append("g").attr("transform", `translate(0,${plotBottom})`)
        .call(d3.axisBottom(x).tickValues(xMinor).tickSize(-3).tickFormat(""))
        .call(a => a.select(".domain").remove()).call(styleAxis);
    g.append("g").attr("transform", `translate(0,${plotTop})`)
        .call(d3.axisTop(x).tickValues(xMajor).tickSize(-6).tickSizeOuter(0).tickFormat(""))
        .call(styleAxis);
    g.append("g").attr("transform", `translate(0,${plotTop})`)
        .call(d3.axisTop(x).tickValues(xMinor).tickSize(-3).tickFormat(""))
        .call(a => a.select(".domain").remove()).call(styleAxis);
    g.append("g").attr("transform", `translate(${p.x0},0)`)
        .call(d3.axisLeft(y).tickValues(yTicks).tickSize(-5).tickSizeOuter(0).tickPadding(9)
            .tickFormat(d => yLabelled.includes(d) ? String(d) : ""))
        .call(styleAxis);
    g.append("g").attr("transform", `translate(${p.x0 + plotW},0)`)
        .call(d3.axisRight(y).tickValues(yTicks).tickSize(-5).tickSizeOuter(0).tickFormat(""))
        .call(styleAxis);

    // axis titles
    const xt = g.append("text")
        .attr("x", p.x0 + plotW / 2).attr("y", 432)
        .attr("text-anchor", "middle")
        .attr("font-weight", "bold").attr("font-size", 22).attr("fill", "#1a1a1a");
    xt.append("tspan").text("Area (km");
    xt.append("tspan").attr("font-size", 13).attr("dy", -9).text("2");
    xt.append("tspan").attr("dy", 9).text(")");

    g.append("text")
        .attr("transform", `translate(${p.x0 - 37},${(plotTop + plotBottom) / 2}) rotate(-90)`)
        .attr("text-anchor", "middle")
        .attr("font-weight", "bold").attr("font-size", 20.5).attr("fill", "#1a1a1a")
        .text("Glacier area change rate %/a)");

    // panel letter and period
    g.append("text").attr("x", p.labelX).attr("y", 28)
        .attr("font-weight", "bold").attr("font-size", 24).attr("fill", "#111")
        .text(p.label);
    g.append("text").attr("x", x(10) + 1).attr("y", 280)
        .attr("font-weight", "bold").attr("font-size", 22).attr("fill", "#1a1a1a")
        .text(p.period);

    // legend
    const lg = g.append("g").attr("transform", `translate(${p.x0 + 219},330)`);
    lg.selectAll("circle").data(legendNames).join("circle")
        .attr("cx", 0).attr("cy", (d, i) => i * 22)
        .attr("r", 4.5).attr("fill", (d, i) => i === 0 ? "#1c5aa8" : "#d42a2a");
    lg.selectAll("text").data(legendNames).join("text")
        .attr("x", 21).attr("y", (d, i) => i * 22).attr("dy", "0.35em")
        .attr("font-weight", "bold").attr("font-size", 18.5).attr("fill", "#1a1a1a")
        .text(d => d);
});
</script>
</body>
</html>
